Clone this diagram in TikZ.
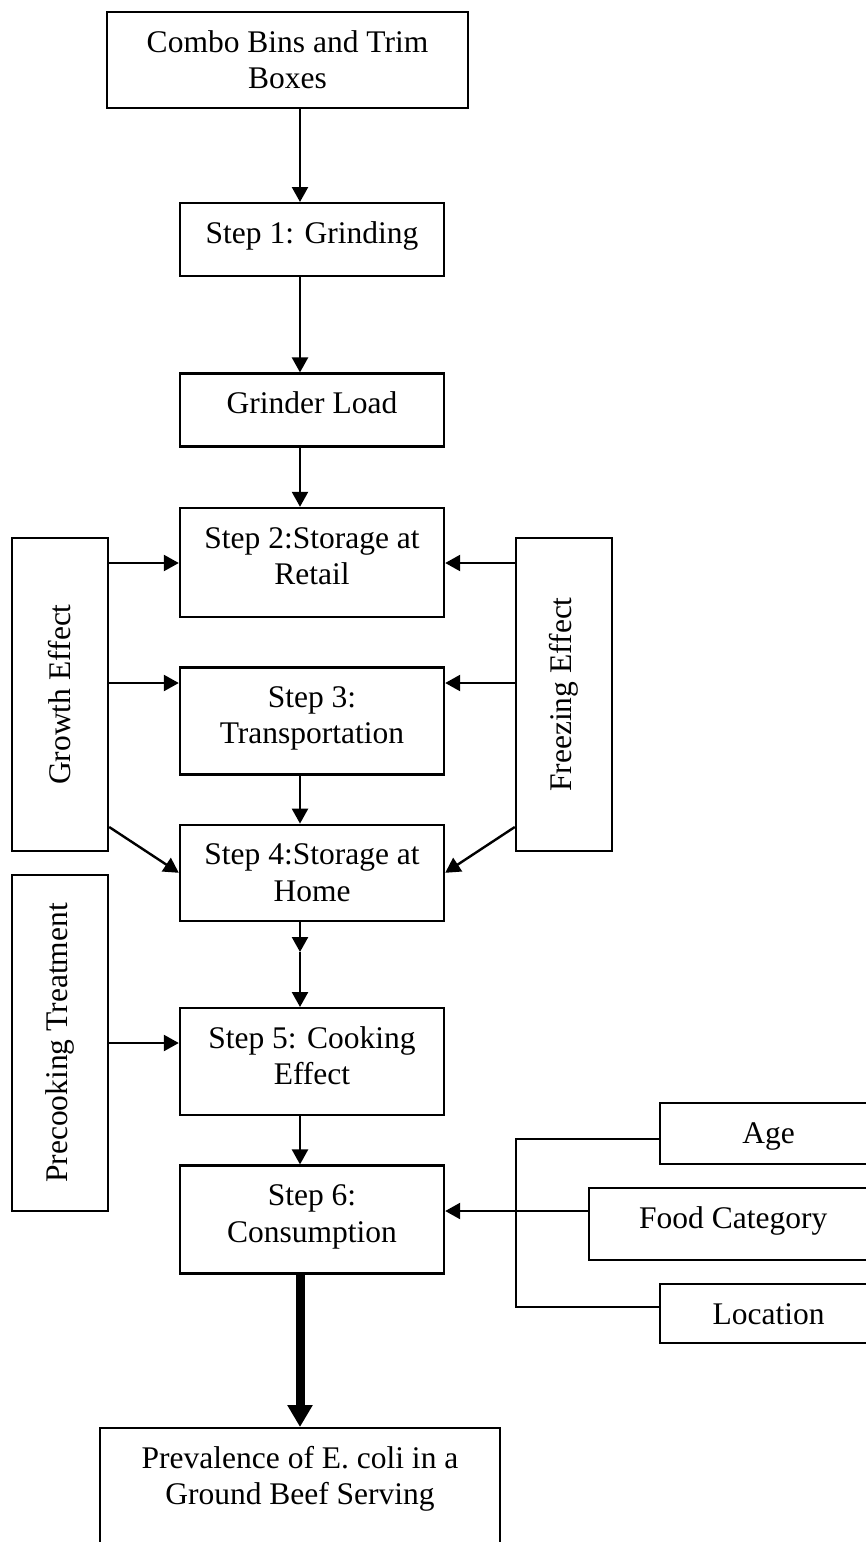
\documentclass[tikz,border=0pt]{standalone}
\usepackage{fontspec}
\setmainfont{Liberation Serif}
\usetikzlibrary{backgrounds}
\usetikzlibrary{arrows.meta}
\usetikzlibrary{positioning}

\begin{document}
\begin{tikzpicture}[
    show background rectangle,
    tight background,
    background rectangle/.style={fill=white},
    x=1pt, y=-1pt,
    font=\fontsize{31.5pt}{36.5pt}\selectfont,
    line width=2.4pt,
    node distance=48pt,
    box/.style={draw, align=center, minimum width=264pt, inner xsep=0pt, inner ysep=0pt, text height=40pt},
    twobox/.style={box, text height=76.5pt},
    side/.style={draw, minimum width=96pt, inner sep=0pt},
    arr/.style={-{Triangle[length=15pt,width=16pt]}},
    bigarr/.style={line width=9pt, -{Triangle[length=22pt,width=24pt]}},
 ]
    \useasboundingbox (0,0) rectangle (866,1542);
    \clip (0,0) rectangle (866,1542);
    \coordinate (axis) at (300,0);

    % main chain
    \node[twobox, minimum width=361pt, text depth=19.5pt, anchor=north] (combo) at (287.5,11) {Combo Bins and Trim\\Boxes};
    \node[box, text depth=33pt, anchor=north] (s1) at (312,202) {Step 1: Grinding};
    \node[box, text depth=33pt, below=95pt of s1] (load) {Grinder Load};
    \node[twobox, text depth=32.5pt, below=59pt of load] (s2) {Step 2:Storage at\\Retail};
    \node[twobox, text depth=30.5pt, below=of s2] (s3) {Step 3:\\Transportation};
    \node[twobox, text depth=19.5pt, below=of s3] (s4) {Step 4:Storage at\\Home};
    \node[twobox, text depth=30.5pt, below=85pt of s4] (s5) {Step 5: Cooking\\Effect};
    \node[twobox, text depth=31.5pt, below=of s5] (s6) {Step 6:\\Consumption};
    \node[twobox, minimum width=400pt, text depth=120pt, anchor=north] (prev) at (300,1427) {Prevalence of E. coli in a\\Ground Beef Serving};

    % side factors
    \node[side, minimum height=313pt] (grow) at (60,694.5) {\rotatebox{90}{Growth Effect}};
    \node[side, minimum height=313pt] (frz) at (564,694.5) {\rotatebox{90}{Freezing Effect}};
    \node[side, minimum height=336pt] (pre) at (60,1043) {\rotatebox{90}{Precooking Treatment}};

    \node[box, minimum width=217pt, text depth=21pt, anchor=north west] (age) at (659,1102) {Age};
    \node[box, minimum width=288pt, text depth=32pt, anchor=north west] (food) at (588,1187) {Food Category};
    \node[box, minimum width=217pt, text depth=19pt, anchor=north west] (loc) at (659,1283) {Location};

    \draw[arr] (combo.south -| axis) -- (s1.north -| axis);
    \draw[arr] (s1.south -| axis) -- (load.north -| axis);
    \draw[arr] (load.south -| axis) -- (s2.north -| axis);
    \draw[arr] (s3.south -| axis) -- (s4.north -| axis);
    \coordinate (mid) at (300,952);
    \draw[arr] (s4.south -| axis) -- (mid);
    \draw[arr] (mid) -- (s5.north -| axis);
    \draw[arr] (s5.south -| axis) -- (s6.north -| axis);
    \draw[bigarr] (s6.south -| axis) -- (prev.north -| axis);

    \draw[arr] (grow.east |- 0,563) -- (s2.west |- 0,563);
    \draw[arr] (grow.east |- 0,683) -- (s3.west |- 0,683);
    \draw[arr] (grow.east |- 0,827) -- (s4.west);
    \draw[arr] (frz.west |- 0,563) -- (s2.east |- 0,563);
    \draw[arr] (frz.west |- 0,683) -- (s3.east |- 0,683);
    \draw[arr] (frz.west |- 0,827) -- (s4.east);
    \draw[arr] (pre.east) -- (s5.west |- pre.east);

    \draw (age.west |- 0,1139) -| (516,1307) -- (loc.west |- 0,1307);
    \draw[arr] (food.west |- 0,1211) -- (s6.east |- 0,1211);
\end{tikzpicture}
\end{document}
